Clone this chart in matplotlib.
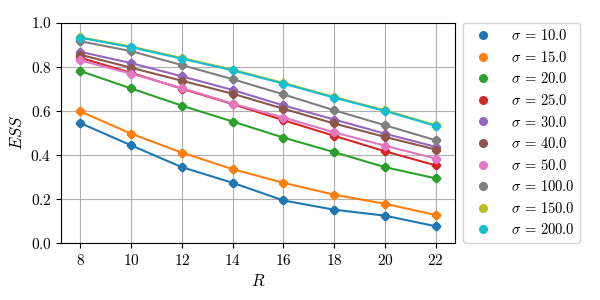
import matplotlib
matplotlib.use("Agg")
import matplotlib.pyplot as plt
import numpy as np

plt.rcParams["font.family"] = ["cmr10", "DejaVu Serif"]
plt.rcParams["mathtext.fontset"] = "cm"
plt.rcParams["axes.formatter.use_mathtext"] = True

R = [8, 10, 12, 14, 16, 18, 20, 22]
sigmas = [10.0, 15.0, 20.0, 25.0, 30.0, 40.0, 50.0, 100.0, 150.0, 200.0]

ess_10 = [0.544, 0.443, 0.344, 0.273, 0.193, 0.151, 0.124, 0.076]
ess_15 = [0.597, 0.496, 0.410, 0.335, 0.273, 0.219, 0.178, 0.127]
ess_20 = [0.780, 0.701, 0.623, 0.551, 0.478, 0.412, 0.344, 0.293]
ess_25 = [0.840, 0.772, 0.700, 0.630, 0.557, 0.486, 0.416, 0.352]
ess_30 = [0.867, 0.816, 0.756, 0.694, 0.624, 0.560, 0.496, 0.436]
ess_40 = [0.854, 0.795, 0.736, 0.677, 0.609, 0.542, 0.481, 0.424]
ess_50 = [0.828, 0.768, 0.703, 0.632, 0.569, 0.502, 0.441, 0.383]
ess_100 = [0.915, 0.870, 0.807, 0.743, 0.674, 0.602, 0.534, 0.466]
ess_150 = [0.933, 0.891, 0.839, 0.786, 0.726, 0.662, 0.602, 0.534]
ess_200 = [0.931, 0.888, 0.836, 0.783, 0.723, 0.659, 0.599, 0.531]

series = [ess_10, ess_15, ess_20, ess_25, ess_30, ess_40, ess_50,
          ess_100, ess_150, ess_200]

fig, ax = plt.subplots(figsize=(6, 3), dpi=100)
plt.subplots_adjust(left=0.102, right=0.758, top=0.925, bottom=0.19)

for i, (s, vals) in enumerate(zip(sigmas, series)):
    c = f"C{i}"
    ax.plot(R, vals, color=c, lw=1.5, marker="o", ms=5, zorder=2)
    ax.plot(R, vals, color=c, lw=0, marker="P", ms=6, zorder=2)
    # legend handle: dot only
    ax.plot([], [], color=c, lw=0, marker="o", ms=5.5,
            label=rf"$\sigma\,=\,{s:.1f}$")

ax.set_xticks(R)
ax.set_ylim(0.0, 1.0)
ax.set_xlim(7.25, 22.75)
ax.set_yticks(np.arange(0, 1.01, 0.2))
ax.tick_params(labelsize=11)
ax.grid(True)
ax.set_xlabel(r"$R$", fontsize=12)
ax.set_ylabel(r"$ESS$", fontsize=12)
ax.legend(loc="upper left", bbox_to_anchor=(1.02, 1.0), borderaxespad=0,
          fontsize=10.5, handletextpad=0.9, borderpad=0.4, labelspacing=0.45)

fig.savefig("out.png")
